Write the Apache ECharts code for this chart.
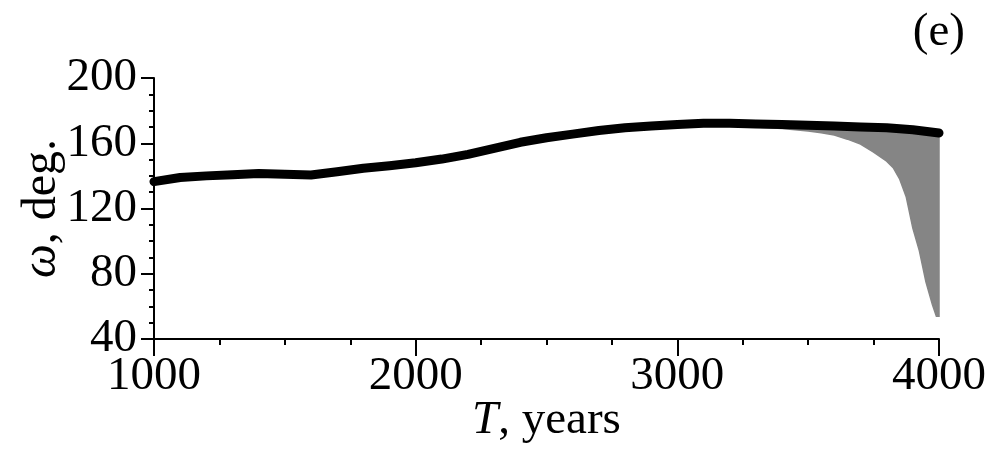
<!DOCTYPE html>
<html>
<head>
<meta charset="utf-8">
<title>omega vs T</title>
<script src="https://cdn.jsdelivr.net/npm/echarts@6/dist/echarts.min.js"></script>
<style>
  html, body { margin: 0; padding: 0; background: #fff; }
  #chart { width: 991px; height: 453px; }
</style>
</head>
<body>
<div id="chart"></div>
<script>
// Mean argument of perihelion over time (black curve)
const years = [1000, 1100, 1200, 1300, 1400, 1500, 1600, 1700, 1800, 1900,
               2000, 2100, 2200, 2300, 2400, 2500, 2600, 2700, 2800, 2900,
               3000, 3100, 3200, 3300, 3400, 3500, 3600, 3700, 3800, 3900, 4000];
const omegaMean = [136.5, 139.0, 140.0, 140.7, 141.5, 141.0, 140.5, 142.5, 144.7, 146.2,
                   148.0, 150.3, 153.2, 156.8, 160.6, 163.4, 165.6, 167.8, 169.5, 170.6,
                   171.5, 172.2, 172.2, 171.8, 171.5, 171.0, 170.6, 170.0, 169.5, 168.3, 166.3];

// Lower envelope of the spread of clone orbits (grey band)
const spreadYears = [3100, 3200, 3300, 3400, 3500, 3550, 3600, 3650, 3700, 3750,
                     3800, 3825, 3850, 3875, 3900, 3925, 3950, 3975, 3990, 4000];
const spreadLow   = [171.0, 170.5, 170.0, 169.0, 167.5, 166.5, 165.0, 162.5, 159.5, 154.5,
                     149.0, 145.0, 138.0, 127.0, 108.0, 94.0, 75.0, 61.0, 54.0, 54.0];

// Axis settings
const xTicks = { min: 1000, max: 4000, step: 1000 };
const yTicks = { min: 40, max: 200, step: 40 };

const FONT = '"Liberation Serif", "Times New Roman", serif';

const chart = echarts.init(document.getElementById('chart'), null, { renderer: 'canvas' });

const meanData = years.map((t, i) => [t, omegaMean[i]]);
const bandStart = years.indexOf(spreadYears[0]);

chart.setOption({
  backgroundColor: '#ffffff',
  animation: false,
  grid: { left: 154, right: 52, top: 78, bottom: 114, containLabel: false },
  xAxis: {
    type: 'value',
    min: xTicks.min, max: xTicks.max, interval: xTicks.step,
    name: '{i|T}, years',
    nameLocation: 'middle',
    nameGap: 58,
    nameMoveOverlap: false,
    nameTextStyle: {
      fontFamily: FONT, fontSize: 47, color: '#000',
      rich: { i: { fontFamily: FONT, fontSize: 47, fontStyle: 'italic', color: '#000' } }
    },
    axisLine: { show: true, onZero: false, lineStyle: { color: '#000', width: 2 } },
    axisTick: { show: true, inside: false, length: 17, lineStyle: { color: '#000', width: 2 } },
    minorTick: { show: true, splitNumber: 4, length: 6, lineStyle: { color: '#000', width: 2 } },
    axisLabel: {
      fontFamily: FONT, fontSize: 47, color: '#000', margin: 14,
      formatter: v => String(v)
    },
    splitLine: { show: false }
  },
  yAxis: {
    type: 'value',
    min: yTicks.min, max: yTicks.max, interval: yTicks.step,
    name: '{i|ω}, deg.',
    nameLocation: 'middle',
    nameRotate: 90,
    nameGap: 88,
    nameMoveOverlap: false,
    nameTextStyle: {
      fontFamily: FONT, fontSize: 48, color: '#000',
      rich: { i: { fontFamily: FONT, fontSize: 48, fontStyle: 'italic', color: '#000' } }
    },
    axisLine: { show: true, onZero: false, lineStyle: { color: '#000', width: 2 } },
    axisTick: { show: true, inside: false, length: 13, lineStyle: { color: '#000', width: 2 } },
    minorTick: { show: true, splitNumber: 4, length: 5, lineStyle: { color: '#000', width: 2 } },
    axisLabel: {
      fontFamily: FONT, fontSize: 47, color: '#000', margin: 17,
      formatter: v => String(v)
    },
    splitLine: { show: false }
  },
  graphic: [{
    type: 'text',
    right: 26, top: 9,
    style: { text: '(e)', fontFamily: FONT, fontSize: 47, fill: '#000' }
  }],
  series: [
    {
      // grey spread: polygon between the mean curve and the lower envelope
      type: 'custom',
      z: 1,
      data: [[spreadYears[0], spreadLow[0]]],
      renderItem: function (params, api) {
        const pts = [];
        for (let i = bandStart; i < years.length; i++) {
          pts.push(api.coord([years[i], omegaMean[i]]));
        }
        for (let i = spreadYears.length - 1; i >= 0; i--) {
          pts.push(api.coord([spreadYears[i], spreadLow[i]]));
        }
        return {
          type: 'polygon',
          shape: { points: pts },
          style: { fill: '#858585', stroke: '#858585', lineWidth: 1.5 }
        };
      },
      silent: true
    },
    {
      type: 'line',
      z: 3,
      data: meanData,
      showSymbol: false,
      smooth: false,
      lineStyle: { color: '#000', width: 9, cap: 'round', join: 'round' },
      silent: true
    }
  ]
});
</script>
</body>
</html>
